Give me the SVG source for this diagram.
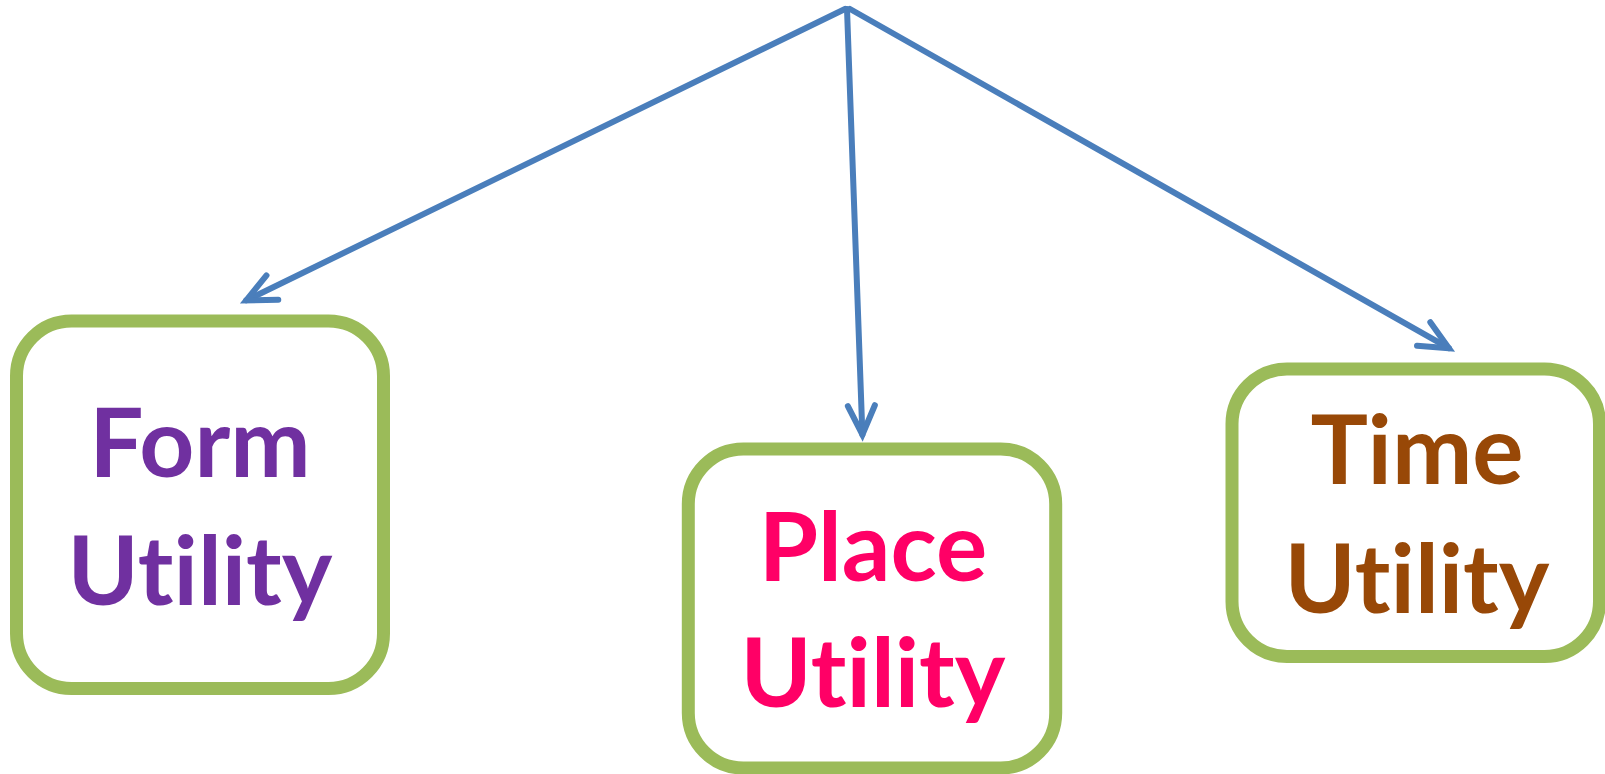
<svg xmlns="http://www.w3.org/2000/svg" width="1605" height="774" viewBox="0 0 1605 774">
<style>
.box{fill:#FFFFFF;stroke:#9BBB59;stroke-width:13}
.lbl{font-family:Lato,"Open Sans",sans-serif;font-weight:bold;font-size:96px;text-anchor:middle;font-variant-ligatures:none;font-feature-settings:"liga" 0,"clig" 0}
.conn{stroke:#4A7EBB;stroke-width:6;fill:none;stroke-linecap:round}
</style>
<defs>
<marker id="arr" markerUnits="userSpaceOnUse" orient="auto" refX="0" refY="0" markerWidth="40" markerHeight="40" overflow="visible">
<path d="M-29,-13.5 L0,0 L-29,13.5" fill="none" stroke="#4A7EBB" stroke-width="6" stroke-linejoin="miter" stroke-linecap="round"/>
</marker>
</defs>
<rect width="1605" height="774" fill="#FFFFFF"/>
<g id="connectors">
<line class="conn" x1="845" y1="9" x2="246.3" y2="300.3" marker-end="url(#arr)"/>
<line class="conn" x1="847" y1="9" x2="862.4" y2="434.7" marker-end="url(#arr)"/>
<line class="conn" x1="850" y1="9" x2="1448.9" y2="348.2" marker-end="url(#arr)"/>
</g>
<g id="form">
<rect class="box" x="16.5" y="321" width="367" height="367.5" rx="55"/>
<text class="lbl" fill="#7030A0" x="200" y="477">Form</text>
<text class="lbl" fill="#7030A0" x="200" y="605">Utility</text>
</g>
<g id="place">
<rect class="box" x="688.3" y="449" width="367.4" height="319" rx="55"/>
<text class="lbl" fill="#FF0066" x="873" y="580.7">Place</text>
<text class="lbl" fill="#FF0066" x="873" y="707.3">Utility</text>
</g>
<g id="time">
<rect class="box" x="1232" y="369" width="367.5" height="287.5" rx="55"/>
<text class="lbl" fill="#984807" x="1417" y="484.3">Time</text>
<text class="lbl" fill="#984807" x="1417" y="613.3">Utility</text>
</g>
</svg>
